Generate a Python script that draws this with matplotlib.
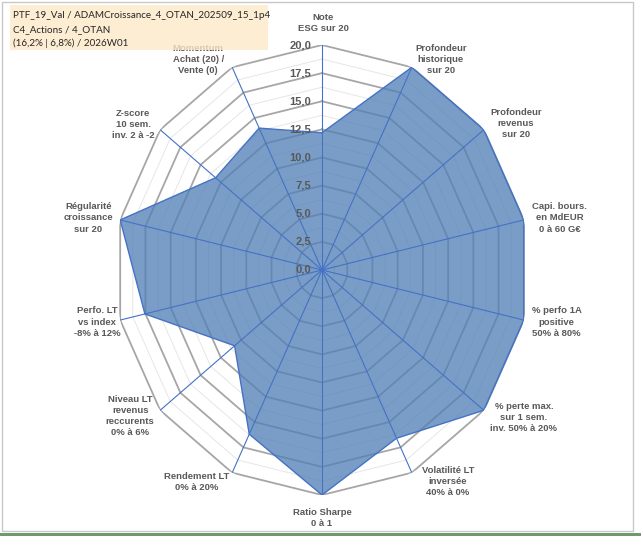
import numpy as np
import matplotlib
matplotlib.use("Agg")
import matplotlib.pyplot as plt
from matplotlib.patches import Rectangle

# axis labels (clockwise from top)
labels = [
    "Note\nESG sur 20",
    "Profondeur\nhistorique\nsur 20",
    "Profondeur\nrevenus\nsur 20",
    "Capi. bours.\nen MdEUR\n0 à 60 G€",
    "% perfo 1A\npositive\n50% à 80%",
    "% perte max.\nsur 1 sem.\ninv. 50% à 20%",
    "Volatilité LT\ninversée\n40% à 0%",
    "Ratio Sharpe\n0 à 1",
    "Rendement LT\n0% à 20%",
    "Niveau LT\nrevenus\nreccurents\n0% à 6%",
    "Perfo. LT\nvs index\n-8% à 12%",
    "Régularité\ncroissance\nsur 20",
    "Z-score\n10 sem.\ninv. 2 à -2",
    "Momentum\nAchat (20) /\nVente (0)",
]
scores = [12.2, 20, 20, 20, 20, 20, 16.6, 20, 16.2, 10.8, 17.55, 20, 13.15, 14.0]
rticks = [0, 2.5, 5, 7.5, 10, 12.5, 15, 17.5, 20]
rtick_labels = ["0,0", "2,5", "5,0", "7,5", "10,0", "12,5", "15,0", "17,5", "20,0"]
minor_rings = [1.25, 3.75, 6.25, 8.75, 11.25, 13.75, 16.25, 18.75]
title_lines = ["PTF_19_Val / ADAMCroissance_4_OTAN_202509_15_1p4",
               "C4_Actions / 4_OTAN",
               "(16,2% | 6,8%) / 2026W01"]

# label offsets from the outer vertex, in pixels
label_offsets = [(1, 22), (29, 8), (32, 6), (36, 2), (33, -2), (40, -7), (36, -9),
                 (0, -23), (-35, -9), (-30, -6), (-23, -2), (-32, 2), (-27, 5), (-34, 8)]

W, H = 641, 536
fig = plt.figure(figsize=(W / 100, H / 100), dpi=100)
fig.patch.set_facecolor("white")

cx, cy, rx, ry = 322, 270, 207, 225
ax = fig.add_axes([(cx - rx) / W, (H - cy - ry) / H, 2 * rx / W, 2 * ry / H], projection="polar")
ax.set_aspect("auto")
ax.set_theta_zero_location("N")
ax.set_theta_direction(-1)
ax.set_ylim(0, 20)
ax.grid(False)
ax.spines["polar"].set_visible(False)
ax.set_xticks([])
ax.set_yticks([])
ax.patch.set_alpha(0)

n = len(labels)
theta = np.arange(n) * 2 * np.pi / n
tc = np.append(theta, theta[0])

for r in minor_rings:
    ax.plot(tc, [r] * (n + 1), color="#E6E6E6", lw=0.7, zorder=1)
for r in rticks[1:]:
    ax.plot(tc, [r] * (n + 1), color="#A6A6A6", lw=1.3, zorder=1)

vals = np.append(scores, scores[0])
ax.fill(tc, vals, color="#5280B6", alpha=0.77, zorder=2, lw=0)
ax.plot(tc, vals, color="#4472C4", lw=1.0, zorder=4)

for t in theta:
    ax.plot([t, t], [0, 20], color="#4472C4", lw=0.8, zorder=3)

for r, lab in zip(rticks, rtick_labels):
    ax.annotate(lab, xy=(0, r), xytext=(-11, 0), textcoords="offset pixels",
                ha="right", va="center", fontsize=8, fontweight="bold",
                color="#595959", family="Liberation Sans", zorder=5)

for t, lab, off in zip(theta, labels, label_offsets):
    ax.annotate(lab, xy=(t, 20), xytext=off, textcoords="offset pixels",
                ha="center", va="center", fontsize=6.8, fontweight="bold",
                color="#595959", family="Liberation Sans", linespacing=1.3,
                annotation_clip=False, zorder=5)

# title box (drawn over the chart, like the Excel text box)
fig.patches.append(Rectangle((10 / W, 1 - 50 / H), 258 / W, 45 / H, transform=fig.transFigure,
                             facecolor="#FDEAC8", edgecolor="none", alpha=0.8, zorder=10))
for i, line in enumerate(title_lines):
    fig.text(13 / W, 1 - (16 + 13.5 * i) / H, line, ha="left", va="center", fontsize=7.1,
             family="Lato", color="#262626", zorder=11)

# chart frame
fig.patches.append(Rectangle((2 / W, 1 - 531 / H), 631 / W, 529 / H, transform=fig.transFigure,
                             facecolor="none", edgecolor="#C8C8C8", lw=1, zorder=12))
fig.patches.append(Rectangle((0, 0), 1, 3 / H, transform=fig.transFigure,
                             facecolor="#6E9A6E", edgecolor="none", zorder=12))

fig.savefig("out.png", dpi=100)
